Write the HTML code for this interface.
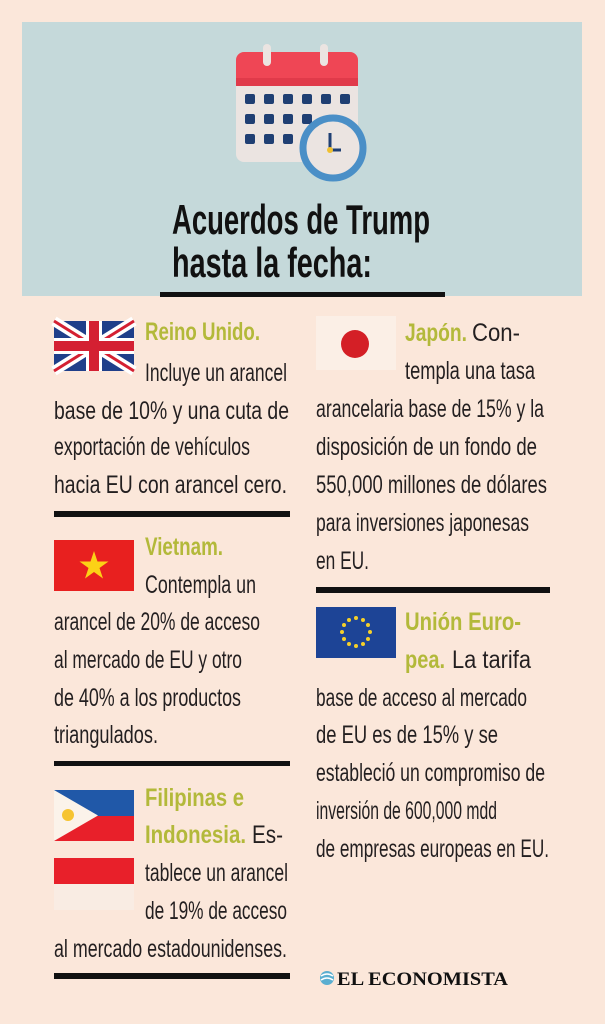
<!DOCTYPE html>
<html><head><meta charset="utf-8"><style>
html,body{margin:0;padding:0;background:#fbe7da;}
svg{display:block;}
.t{font-family:"Liberation Sans Narrow","Liberation Sans",sans-serif;font-size:25px;fill:#231f20;}
.g{font-family:"Liberation Sans Narrow","Liberation Sans",sans-serif;font-size:25px;font-weight:bold;fill:#b3b93a;}
.h{font-family:"Liberation Sans Narrow","Liberation Sans",sans-serif;font-size:42px;font-weight:bold;fill:#111;}
</style></head><body>
<svg width="605" height="1024" viewBox="0 0 605 1024">
<rect x="0" y="0" width="605" height="1024" fill="#fbe7da"/>
<rect x="22" y="22" width="560" height="274" fill="#c5d9da"/>
<g>
<rect x="236" y="76" width="122" height="86" rx="8" fill="#ebe4e1"/>
<rect x="236" y="52" width="122" height="34" rx="8" fill="#ef4655"/>
<rect x="236" y="78" width="122" height="8" fill="#e03a4a"/>
<rect x="263" y="44" width="8" height="22" rx="4" fill="#ebe4e1"/>
<rect x="320" y="44" width="8" height="22" rx="4" fill="#ebe4e1"/>
<g fill="#1f3f73">
<rect x="245" y="94" width="10" height="10" rx="2"/><rect x="264" y="94" width="10" height="10" rx="2"/><rect x="283" y="94" width="10" height="10" rx="2"/><rect x="302" y="94" width="10" height="10" rx="2"/><rect x="321" y="94" width="10" height="10" rx="2"/><rect x="340" y="94" width="10" height="10" rx="2"/>
<rect x="245" y="114" width="10" height="10" rx="2"/><rect x="264" y="114" width="10" height="10" rx="2"/><rect x="283" y="114" width="10" height="10" rx="2"/><rect x="302" y="114" width="10" height="10" rx="2"/>
<rect x="245" y="134" width="10" height="10" rx="2"/><rect x="264" y="134" width="10" height="10" rx="2"/><rect x="283" y="134" width="10" height="10" rx="2"/>
</g>
<circle cx="333" cy="148" r="30" fill="#ebe4e1" stroke="#4a8fc7" stroke-width="7"/>
<line x1="330" y1="133" x2="330" y2="150" stroke="#1f3f73" stroke-width="3"/>
<line x1="330" y1="150" x2="341" y2="150" stroke="#1f3f73" stroke-width="3"/>
<circle cx="330" cy="150" r="3" fill="#f0c030"/>
</g>
<text class="h" x="172" y="234" textLength="258" lengthAdjust="spacingAndGlyphs">Acuerdos de Trump</text>
<text class="h" x="172" y="277" textLength="200" lengthAdjust="spacingAndGlyphs">hasta la fecha:</text>
<rect x="160" y="292" width="285" height="5" fill="#111"/>

<g>
<rect x="54" y="321" width="80" height="50" fill="#1f3f8a"/>
<path d="M54 321 L134 371 M134 321 L54 371" stroke="#fff" stroke-width="10"/>
<path d="M54 321 L134 371 M134 321 L54 371" stroke="#d42032" stroke-width="3"/>
<rect x="54" y="338" width="80" height="16" fill="#fff"/><rect x="86" y="321" width="16" height="50" fill="#fff"/>
<rect x="54" y="341" width="80" height="10" fill="#d42032"/><rect x="89" y="321" width="10" height="50" fill="#d42032"/>
</g>
<g>
<text class="g" x="145" y="340" textLength="115" lengthAdjust="spacingAndGlyphs">Reino Unido.</text>
<text class="t" x="145" y="381" textLength="142" lengthAdjust="spacingAndGlyphs">Incluye un arancel</text>
<text class="t" x="54" y="419" textLength="235" lengthAdjust="spacingAndGlyphs">base de 10% y una cuta de</text>
<text class="t" x="54" y="455" textLength="196" lengthAdjust="spacingAndGlyphs">exportación de vehículos</text>
<text class="t" x="54" y="493" textLength="233" lengthAdjust="spacingAndGlyphs">hacia EU con arancel cero.</text>
</g>
<rect x="54" y="511" width="236" height="6" fill="#111"/>

<g>
<rect x="54" y="540" width="80" height="51" fill="#e8201f"/>
<polygon points="94,551 97.5,561.5 108.5,561.5 99.5,568 103,578.5 94,572 85,578.5 88.5,568 79.5,561.5 90.5,561.5" fill="#fcd116"/>
</g>
<g>
<text class="g" x="145" y="555" textLength="78" lengthAdjust="spacingAndGlyphs">Vietnam.</text>
<text class="t" x="145" y="593" textLength="111" lengthAdjust="spacingAndGlyphs">Contempla un</text>
<text class="t" x="54" y="630" textLength="206" lengthAdjust="spacingAndGlyphs">arancel de 20% de acceso</text>
<text class="t" x="54" y="668" textLength="188" lengthAdjust="spacingAndGlyphs">al mercado de EU y otro</text>
<text class="t" x="54" y="706" textLength="187" lengthAdjust="spacingAndGlyphs">de 40% a los productos</text>
<text class="t" x="54" y="743" textLength="104" lengthAdjust="spacingAndGlyphs">triangulados.</text>
</g>
<rect x="54" y="761" width="236" height="5" fill="#111"/>

<g>
<rect x="54" y="790" width="80" height="26" fill="#2058a8"/>
<rect x="54" y="816" width="80" height="25" fill="#e8202a"/>
<polygon points="54,790 98,815.5 54,841" fill="#fbf3ea"/>
<circle cx="68" cy="815" r="6" fill="#f6c431"/>
</g>
<g>
<rect x="54" y="858" width="80" height="26" fill="#e8202a"/>
<rect x="54" y="884" width="80" height="26" fill="#f9ece3"/>
</g>
<g>
<text class="g" x="145" y="806" textLength="99" lengthAdjust="spacingAndGlyphs">Filipinas e</text>
<text class="g" x="145" y="843" textLength="101" lengthAdjust="spacingAndGlyphs">Indonesia.</text>
<text class="t" x="252" y="843" textLength="31" lengthAdjust="spacingAndGlyphs">Es-</text>
<text class="t" x="145" y="881" textLength="143" lengthAdjust="spacingAndGlyphs">tablece un arancel</text>
<text class="t" x="145" y="919" textLength="142" lengthAdjust="spacingAndGlyphs">de 19% de acceso</text>
<text class="t" x="54" y="957" textLength="233" lengthAdjust="spacingAndGlyphs">al mercado estadounidenses.</text>
</g>
<rect x="54" y="973" width="236" height="6" fill="#111"/>

<g>
<rect x="316" y="316" width="80" height="54" fill="#fbefe6"/>
<circle cx="355" cy="344" r="14" fill="#d41f26"/>
</g>
<g>
<text class="g" x="405" y="341" textLength="62" lengthAdjust="spacingAndGlyphs">Japón.</text>
<text class="t" x="472" y="341" textLength="48" lengthAdjust="spacingAndGlyphs">Con-</text>
<text class="t" x="405" y="379" textLength="130" lengthAdjust="spacingAndGlyphs">templa una tasa</text>
<text class="t" x="316" y="417" textLength="228" lengthAdjust="spacingAndGlyphs">arancelaria base de 15% y la</text>
<text class="t" x="316" y="455" textLength="221" lengthAdjust="spacingAndGlyphs">disposición de un fondo de</text>
<text class="t" x="316" y="493" textLength="231" lengthAdjust="spacingAndGlyphs">550,000 millones de dólares</text>
<text class="t" x="316" y="531" textLength="213" lengthAdjust="spacingAndGlyphs">para inversiones japonesas</text>
<text class="t" x="316" y="569" textLength="53" lengthAdjust="spacingAndGlyphs">en EU.</text>
</g>
<rect x="316" y="587" width="234" height="6" fill="#111"/>

<g>
<rect x="316" y="607" width="80" height="51" fill="#1d4496"/>
<g fill="#f5d02a">
<circle cx="356" cy="618" r="2"/><circle cx="363" cy="620" r="2"/><circle cx="368" cy="625" r="2"/><circle cx="370" cy="632" r="2"/><circle cx="368" cy="639" r="2"/><circle cx="363" cy="644" r="2"/><circle cx="356" cy="646" r="2"/><circle cx="349" cy="644" r="2"/><circle cx="344" cy="639" r="2"/><circle cx="342" cy="632" r="2"/><circle cx="344" cy="625" r="2"/><circle cx="349" cy="620" r="2"/>
</g>
</g>
<g>
<text class="g" x="405" y="630" textLength="116" lengthAdjust="spacingAndGlyphs">Unión Euro-</text>
<text class="g" x="405" y="668" textLength="40" lengthAdjust="spacingAndGlyphs">pea.</text>
<text class="t" x="452" y="668" textLength="79" lengthAdjust="spacingAndGlyphs">La tarifa</text>
<text class="t" x="316" y="706" textLength="211" lengthAdjust="spacingAndGlyphs">base de acceso al mercado</text>
<text class="t" x="316" y="743" textLength="182" lengthAdjust="spacingAndGlyphs">de EU es de 15% y se</text>
<text class="t" x="316" y="781" textLength="229" lengthAdjust="spacingAndGlyphs">estableció un compromiso de</text>
<text class="t" x="316" y="819" textLength="181" lengthAdjust="spacingAndGlyphs">inversión de 600,000 mdd</text>
<text class="t" x="316" y="857" textLength="233" lengthAdjust="spacingAndGlyphs">de empresas europeas en EU.</text>
</g>

<g>
<circle cx="327" cy="978" r="7" fill="#5aaed0"/>
<path d="M321 976 Q327 972 333 976" stroke="#fff" stroke-width="1.5" fill="none"/>
<path d="M321 980 Q327 976 333 980" stroke="#fff" stroke-width="1.5" fill="none"/>
<text x="337" y="985" textLength="171" lengthAdjust="spacingAndGlyphs" style="font-family:'Liberation Serif',serif;font-weight:bold;font-size:19px;fill:#111">EL ECONOMISTA</text>
</g>
</svg>
</body></html>
